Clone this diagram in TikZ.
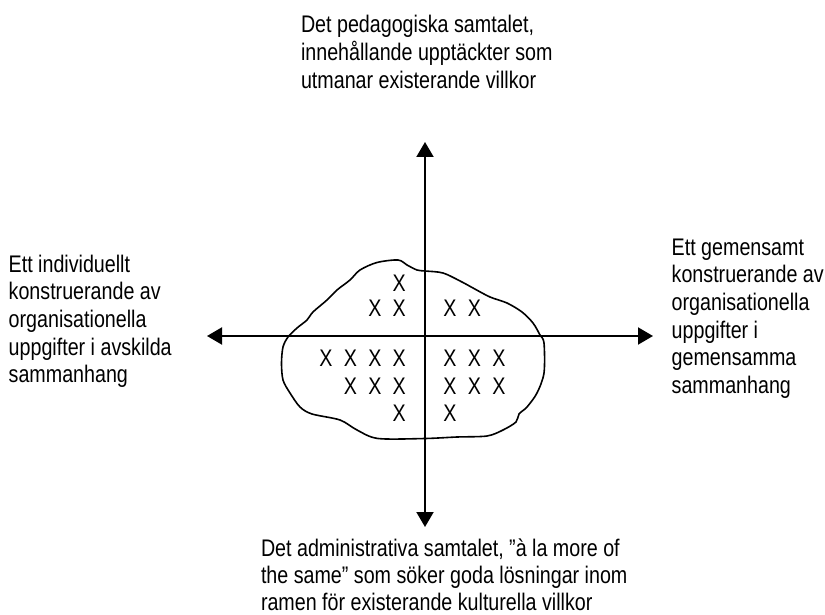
\documentclass[tikz,border=0pt]{standalone}
\usepackage{fontspec}
\setmainfont{Liberation Sans}[FakeStretch=0.82]
\usetikzlibrary{arrows.meta}

\begin{document}
\begin{tikzpicture}[x=1pt,y=-1pt,
  lbl/.style={anchor=north west, inner sep=0pt, align=left,
              font=\fontsize{24}{27.6}\selectfont},
  xmk/.style={inner sep=0pt, font=\fontsize{24}{27.6}\selectfont},
  axisline/.style={line width=2pt, {Triangle[length=15pt,width=17pt]}-{Triangle[length=15pt,width=17pt]}},
  blob/.style={line width=1.6pt}]

\path[use as bounding box] (0,0) rectangle (825,615);

% axis end points
\coordinate (top) at (425,142);
\coordinate (bot) at (425,527);
\coordinate (lft) at (207,336);
\coordinate (rgt) at (653,336);

% the hand-drawn region around the crosses
\draw[blob] plot[smooth cycle, tension=0.5] coordinates {
  (398,260) (377,262.5) (360,270) (350,280) (337,290) (327,300)
  (313,312) (307,320) (297,328) (288,337) (283,347) (281.5,363)
  (283,380) (290,393) (300,407) (312,414) (340,420) (357,430)
  (378,438.5) (425,438.5) (457,437) (487,436) (503,430) (516,422)
  (519,414) (527,407) (537,393) (544,373) (544,343) (540,335)
  (533,323) (522,312) (507,303) (490,297) (473,288) (462,282)
  (443,273) (425,271) (417,270) (407,265)};

% axes
\draw[axisline] (bot) -- (top);
\draw[axisline] (lft) -- (rgt);

% crosses
\foreach \px/\py [count=\i] in {
  399.3/283.3,
  375/308.3, 399.3/308.3, 450/308.3, 474.5/308.3,
  326/358.3, 350.5/358.3, 375/358.3, 399.3/358.3, 450/358.3, 474.5/358.3, 499/358.3,
  350.5/386.7, 375/386.7, 399.3/386.7, 450/386.7, 474.5/386.7, 499/386.7,
  399.3/413.3, 450/413.3}
  \node[xmk] (x\i) at (\px,\py) {X};

% labels
\node[lbl] (ltop) at (300.8,12.7) {\strut Det pedagogiska samtalet,\\innehållande upptäckter som\\utmanar existerande villkor};
\node[lbl] (lleft) at (8.5,252.7) {\strut Ett individuellt\\konstruerande av\\organisationella\\uppgifter i avskilda\\sammanhang};
\node[lbl] (lright) at (671.5,235.7) {\strut Ett gemensamt\\konstruerande av\\organisationella\\uppgifter i\\gemensamma\\sammanhang};
\node[lbl, font=\fontsize{24}{27}\selectfont] (lbot) at (260.8,537.1) {\strut Det administrativa samtalet, ”à la more of\\the same” som söker goda lösningar inom\\ramen för existerande kulturella villkor};

\end{tikzpicture}
\end{document}
